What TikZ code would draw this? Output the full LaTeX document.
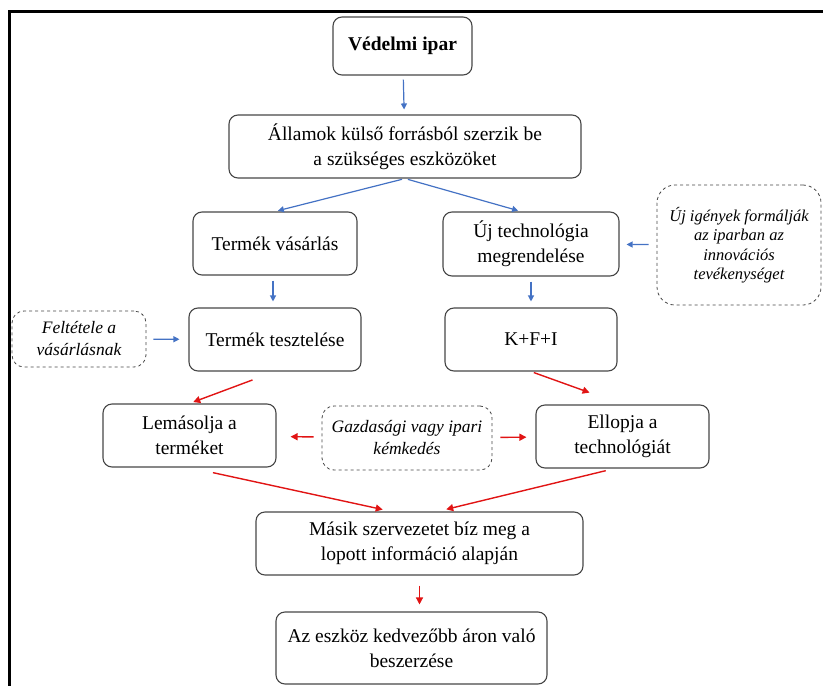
\documentclass[tikz,border=0pt]{standalone}
\usepackage{fontspec}
\setmainfont{Liberation Serif}
\usetikzlibrary{arrows.meta}

\definecolor{arrblue}{RGB}{68,114,196}
\definecolor{arrred}{RGB}{225,20,20}
\definecolor{boxgray}{RGB}{70,70,70}

\tikzset{
  box/.style={draw=boxgray, line width=1.1pt, rounded corners=9pt, align=center,
    font=\fontsize{19.5}{25}\selectfont, inner sep=0pt},
  note/.style={draw=boxgray, line width=0.8pt, dashed, rounded corners=12pt, align=center,
    font=\fontsize{17.5}{22}\selectfont\itshape, inner sep=0pt},
  barrow/.style={arrblue, line width=1.2pt, -{Triangle[length=6pt,width=6pt]}},
  rarrow/.style={arrred, line width=1.4pt, -{Triangle[length=7pt,width=7pt]}}
}

\begin{document}
\begin{tikzpicture}[x=1pt,y=-1pt]
    % page and frame
    \useasboundingbox (0,0) rectangle (823,686);
    \draw[line width=3pt] (9,686) -- (9,11) -- (823,11);
    % Boxes
    \node[box, font=\fontsize{19.5}{25}\selectfont\bfseries, minimum width=139pt, minimum height=58pt]
        (vedelmi) at (402.5,46) {Védelmi ipar};
    \node[box, minimum width=352pt, minimum height=63pt]
        (allam) at (405,146.5) {Államok külső forrásból szerzik be\\a szükséges eszközöket};
    \node[box, minimum width=164pt, minimum height=63pt]
        (vasarlas) at (275,243.5) {Termék vásárlás};
    \node[box, minimum width=176pt, minimum height=64pt]
        (ujtech) at (531,244) {Új technológia\\megrendelése};
    \node[note, rounded corners=18pt, minimum width=164pt, minimum height=120pt,
        font=\fontsize{16.5}{19.5}\selectfont\itshape]
        (igenyek) at (739,245) {Új igények formálják\\az iparban az\\innovációs\\tevékenységet};
    \node[note, minimum width=134pt, minimum height=56pt]
        (feltetel) at (79,339) {Feltétele a\\vásárlásnak};
    \node[box, minimum width=172pt, minimum height=63pt]
        (teszt) at (275,339.5) {Termék tesztelése};
    \node[box, minimum width=172pt, minimum height=63pt]
        (kfi) at (531,339.5) {K+F+I};
    \node[box, minimum width=173pt, minimum height=63pt]
        (lemasol) at (189.5,435.5) {Lemásolja a\\terméket};
    \node[note, minimum width=170pt, minimum height=64pt]
        (kemked) at (407,438) {Gazdasági vagy ipari\\kémkedés};
    \node[box, minimum width=173pt, minimum height=63pt]
        (ellop) at (622.5,436.5) {Ellopja a\\technológiát};
    \node[box, minimum width=327pt, minimum height=63pt]
        (masik) at (419.5,543.5) {Másik szervezetet bíz meg a\\lopott információ alapján};
    \node[box, minimum width=271pt, minimum height=72pt]
        (eszkoz) at (411.5,648) {Az eszköz kedvezőbb áron való\\beszerzése};
    % Blue arrows
    \draw[barrow, shorten <=4pt, shorten >=5pt] (vedelmi) -- (allam);
    \draw[barrow, shorten <=3pt, shorten >=3pt] (allam.south) -- (vasarlas.north);
    \draw[barrow, shorten <=3pt, shorten >=3pt] (allam.south) -- ([xshift=-10pt]ujtech.north);
    \draw[barrow, shorten <=5pt, shorten >=6pt] ([xshift=-2pt]vasarlas.south) -- ([xshift=-2pt]teszt.north);
    \draw[barrow, shorten <=5pt, shorten >=6pt] (ujtech) -- (kfi);
    \draw[barrow, shorten <=8pt, shorten >=7pt] (igenyek) -- (ujtech);
    \draw[barrow, shorten <=7pt, shorten >=9pt] (feltetel) -- (teszt);
    % Red arrows
    \draw[rarrow, shorten <=24pt, shorten >=4pt] (teszt.south) -- (lemasol.north);
    \draw[rarrow, shorten <=3pt, shorten >=35pt] (kfi.south) -- (ellop.north);
    \draw[rarrow, shorten <=8pt, shorten >=14pt] (kemked) -- (lemasol);
    \draw[rarrow, shorten <=8pt, shorten >=9pt] (kemked) -- (ellop);
    \draw[rarrow, shorten <=24pt, shorten >=9pt] (lemasol.south) -- ([xshift=-28pt]masik.north);
    \draw[rarrow, shorten <=9pt, shorten >=9pt] ([xshift=-8pt]ellop.south) -- ([xshift=18pt]masik.north);
    \draw[rarrow, shorten <=10pt, shorten >=7pt] (masik) -- (masik |- eszkoz.north);
\end{tikzpicture}
\end{document}
